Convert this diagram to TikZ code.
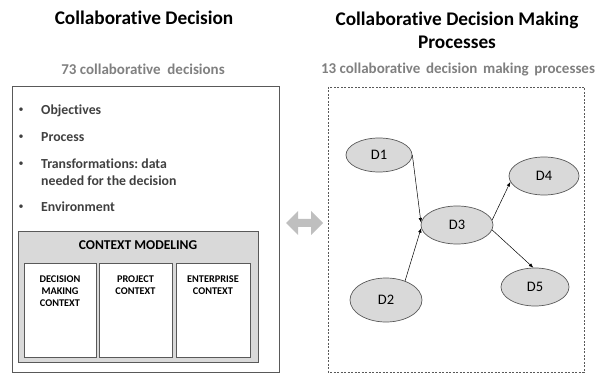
\documentclass[tikz,border=0pt]{standalone}
\usepackage{fontspec}
\setmainfont{Carlito}[Ligatures=NoCommon]
\usetikzlibrary{shapes.geometric,arrows.meta}
\frenchspacing
\definecolor{subgray}{HTML}{808080}
\definecolor{txtgray}{HTML}{404040}
\definecolor{boxfill}{HTML}{D9D9D9}
\definecolor{edgegray}{HTML}{595959}
\definecolor{arrowgray}{HTML}{BFBFBF}
\begin{document}
\begin{tikzpicture}[x=1pt,y=-1pt,
  title/.style={font=\fontsize{19.3}{22}\selectfont\bfseries, text=black, anchor=base, inner sep=0pt},
  subtitle/.style={font=\fontsize{15}{17}\selectfont\bfseries, text=subgray, anchor=base, inner sep=0pt},
  bullettext/.style={font=\fontsize{13.8}{16}\selectfont\bfseries, text=txtgray, anchor=base west, inner sep=0pt},
  bulletmark/.style={font=\fontsize{10}{12}\selectfont, text=txtgray, anchor=base, inner sep=0pt},
  ctxtext/.style={font=\fontsize{10.3}{12}\selectfont\bfseries, text=black, anchor=base, inner sep=0pt, align=center},
  dnode/.style={ellipse, draw=edgegray, fill=boxfill, line width=0.7pt, inner sep=0pt, font=\fontsize{14.5}{16}\selectfont, text=black},
  conn/.style={black, line width=0.5pt, -{Latex[length=4.5pt,width=3.5pt]}}
]
\useasboundingbox (0,0) rectangle (597,374);
% titles
\node[title] (t1) at (144,25) {Collaborative Decision};
\node[title] (t2a) at (457,26) {Collaborative Decision Making};
\node[title] (t2b) at (457,49) {Processes};
\node[subtitle] (s1) at (143,75) {73 collaborative\hspace{0.45em}decisions};
\node[subtitle] (s2) at (458,74) {13 collaborative\hspace{0.15em} decision\hspace{0.15em} making\hspace{0.15em} processes};
% left box
\draw[edgegray, line width=0.8pt] (12,86) rectangle (279,372);
\node[bulletmark] (b1) at (21,113) {\textbullet};
\node[bullettext] (l1) at (41,115) {Objectives};
\node[bulletmark] (b2) at (21,140) {\textbullet};
\node[bullettext] (l2) at (41,142) {Process};
\node[bulletmark] (b3) at (21,167) {\textbullet};
\node[bullettext] (l3) at (41,169) {Transformations: data};
\node[bullettext] (l3b) at (41,186) {needed for the decision};
\node[bulletmark] (b4) at (21,210) {\textbullet};
\node[bullettext] (l4) at (41,212) {Environment};
% context modeling
\draw[edgegray, fill=boxfill, line width=0.7pt] (18,231) rectangle (258,362);
\node[font=\fontsize{13.5}{15}\selectfont\bfseries, anchor=base, inner sep=0pt] (cm) at (138,249) {CONTEXT MODELING};
\draw[edgegray, fill=white, line width=0.7pt] (24,263) rectangle (96,357);
\draw[edgegray, fill=white, line width=0.7pt] (99,263) rectangle (172,357);
\draw[edgegray, fill=white, line width=0.7pt] (176,263) rectangle (250,357);
\node[ctxtext] (c1a) at (60,282) {DECISION};
\node[ctxtext] (c1b) at (60,294) {MAKING};
\node[ctxtext] (c1c) at (60,306) {CONTEXT};
\node[ctxtext] (c2a) at (135.5,282) {PROJECT};
\node[ctxtext] (c2b) at (135.5,294) {CONTEXT};
\node[ctxtext] (c3a) at (213,282) {ENTERPRISE};
\node[ctxtext] (c3b) at (213,294) {CONTEXT};
% double arrow
\fill[arrowgray] (286,223) -- (298,211) -- (298,219) -- (311,219) -- (311,211) -- (323,223)
  -- (311,235) -- (311,227) -- (298,227) -- (298,235) -- cycle;
% right dashed box
\draw[edgegray, line width=0.6pt, dash pattern=on 2pt off 1.5pt] (328,87) rectangle (584,372);
% decision nodes
\node[dnode, minimum width=66pt, minimum height=34pt] (D1) at (379,155) {D1};
\node[dnode, minimum width=70pt, minimum height=38pt] (D4) at (544,176) {D4};
\node[dnode, minimum width=72pt, minimum height=38pt] (D3) at (457,225) {D3};
\node[dnode, minimum width=68pt, minimum height=38pt] (D5) at (535,287) {D5};
\node[dnode, minimum width=72pt, minimum height=44pt] (D2) at (386,300) {D2};
% connectors
\draw[conn] (D1.east) -- (D3.176);
\draw[conn] (D2.45) -- (D3.185);
\draw[conn] (D3.8) -- (D4.190);
\draw[conn] (D3.352) -- (D5.95);
\end{tikzpicture}
\end{document}
